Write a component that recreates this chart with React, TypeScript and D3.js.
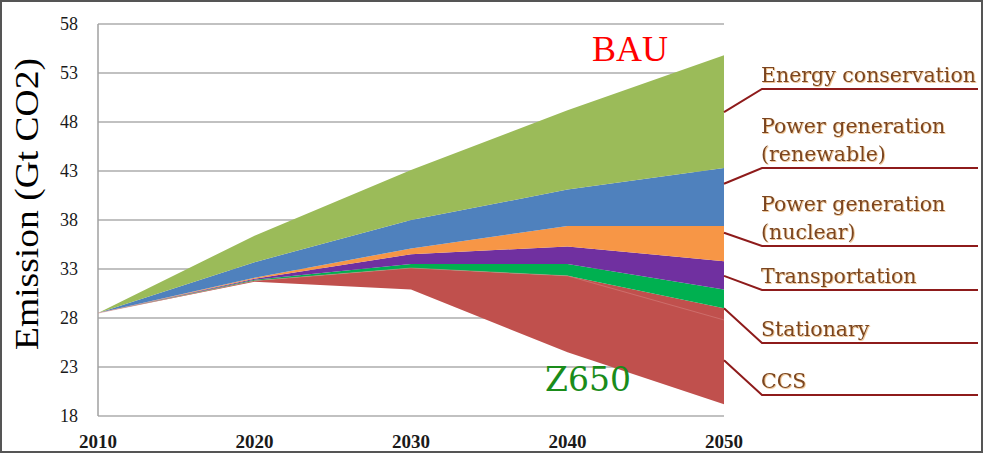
import React from "react";
import * as d3 from "d3";

const years = [2010, 2020, 2030, 2040, 2050];
// Lower envelope: Z650 scenario emissions (Gt CO2)
const z650 = [28.5, 31.7, 30.9, 24.5, 19.2];
// Reduction wedges stacked above Z650 (Gt CO2)
const ccs = [0, 0.1, 2.2, 7.8, 9.8];
const stationary = [0, 0.1, 0.4, 1.2, 1.9];
const transportation = [0, 0.1, 1.0, 1.8, 2.9];
const nuclear = [0, 0.1, 0.6, 2.1, 3.6];
const renewable = [0, 1.6, 2.9, 3.7, 5.9];
const conservation = [0, 2.7, 5.1, 8.1, 11.5];
// faint inner split inside the CCS wedge
const ccsSplit = [28.5, 31.8, 33.1, 32.3, 27.8];

const seriesKeys = ["ccs", "stationary", "transportation", "nuclear", "renewable", "conservation"];
const seriesValues: Record<string, number[]> = { ccs, stationary, transportation, nuclear, renewable, conservation };
const seriesColors: Record<string, string> = {
  ccs: "#C0504D",
  stationary: "#00B050",
  transportation: "#7030A0",
  nuclear: "#F79646",
  renewable: "#4F81BD",
  conservation: "#9BBB59",
};

// legend, top to bottom
const legendLabels = [
  ["Energy conservation"],
  ["Power generation", "(renewable)"],
  ["Power generation", "(nuclear)"],
  ["Transportation"],
  ["Stationary"],
  ["CCS"],
];
// value (Gt CO2) at 2050 where each leader line touches the wedge
const legendAnchors = [49.0, 41.7, 36.7, 32.3, 29.0, 23.7];

const yTicks = [18, 23, 28, 33, 38, 43, 48, 53, 58];
const xTicks = [2010, 2020, 2030, 2040, 2050];

export default function App() {
  const W = 984, H = 454;
  const x = d3.scaleLinear().domain([2010, 2050]).range([98, 724]);
  const y = d3.scaleLinear().domain([18, 58]).range([416, 24]);

  const rows = years.map((yr, i) => {
    const r: any = { year: yr, i };
    seriesKeys.forEach((k) => (r[k] = seriesValues[k][i]));
    return r;
  });
  const stacked = d3.stack<any>().keys(seriesKeys)(rows);
  const area = d3
    .area<any>()
    .x((d) => x(d.data.year))
    .y0((d) => y(d[0] + z650[d.data.i]))
    .y1((d) => y(d[1] + z650[d.data.i]));
  const splitLine = d3
    .line<number>()
    .x((_, i) => x(years[i]))
    .y((v) => y(v));

  const underlineY = [89, 168, 246, 290, 343, 395];
  const lx0 = 762, lx1 = 978;
  const legendColor = "#7A4520";
  const leaderColor = "#8E1B1B";

  return (
    <svg width={W} height={H} style={{ position: "absolute", left: 0, top: 0, background: "#fff" }}>
      <defs>
        <filter id="txtShadow" x="-5%" y="-20%" width="110%" height="140%">
          <feDropShadow dx="0.8" dy="0.8" stdDeviation="0.6" floodColor="#E8B070" floodOpacity="0.9" />
        </filter>
      </defs>
      <rect x={1} y={1} width={981} height={451} fill="#fff" stroke="#555" strokeWidth={2} />

      {/* gridlines */}
      {yTicks.map((t) => (
        <line key={t} x1={x(2010)} x2={x(2050)} y1={y(t)} y2={y(t)} stroke="#ADADAD" strokeWidth={1.5} />
      ))}
      <line x1={x(2010)} x2={x(2010)} y1={y(58)} y2={y(18)} stroke="#A0A0A0" strokeWidth={1.5} />

      {/* stacked wedges */}
      {stacked.map((s) => (
        <path key={s.key} d={area(s) || ""} fill={seriesColors[s.key]} />
      ))}
      <path d={splitLine(ccsSplit) || ""} fill="none" stroke="#D98A88" strokeOpacity={0.5} strokeWidth={1} />

      {/* y tick labels */}
      {yTicks.map((t) => (
        <text key={t} x={78} y={y(t)} dy="0.34em" textAnchor="end" fontFamily="Liberation Serif" fontSize={18} fill="#1a1a1a">
          {t}
        </text>
      ))}
      {/* x tick labels */}
      {xTicks.map((t) => (
        <text key={t} x={x(t)} y={448} textAnchor="middle" fontFamily="Liberation Serif" fontSize={19} fontWeight="bold" fill="#1a1a1a">
          {t}
        </text>
      ))}

      {/* y axis title */}
      <text
        x={38}
        y={204}
        transform="rotate(-90, 38, 204)"
        textAnchor="middle"
        fontFamily="Liberation Serif"
        fontSize={33}
        textLength={292}
        lengthAdjust="spacingAndGlyphs"
        fill="#000"
      >
        Emission  (Gt CO2)
      </text>

      {/* scenario labels */}
      <text x={592} y={61} fontFamily="Liberation Serif" fontSize={36} fill="#FF0000">
        BAU
      </text>
      <text x={545} y={391} fontFamily="DejaVu Serif" fontSize={33} fill="#1A8C1A">
        Z650
      </text>

      {/* legend with leader lines */}
      {legendLabels.map((lines, i) => {
        const uy = underlineY[i];
        return (
          <g key={i}>
            <polyline
              points={`${x(2050)},${y(legendAnchors[i])} ${lx0},${uy} ${lx1},${uy}`}
              fill="none"
              stroke={leaderColor}
              strokeWidth={2}
            />
            {lines.map((ln, j) => (
              <text
                key={j}
                x={761}
                y={uy - 7 - (lines.length - 1 - j) * 28}
                fontFamily="DejaVu Serif"
                fontSize={20.5}
                fill={legendColor}
                filter="url(#txtShadow)"
              >
                {ln}
              </text>
            ))}
          </g>
        );
      })}
    </svg>
  );
}
